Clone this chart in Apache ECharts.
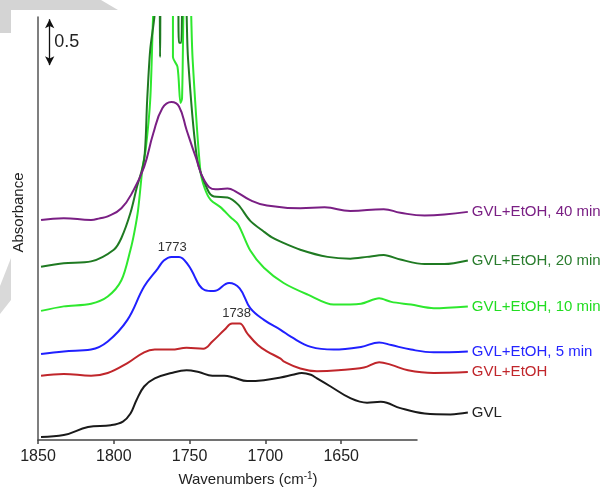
<!DOCTYPE html>
<html>
<head>
<meta charset="utf-8">
<script src="https://cdn.jsdelivr.net/npm/echarts@6/dist/echarts.min.js"></script>
<style>
html,body{margin:0;padding:0;background:#fff;}
#chart{width:611px;height:494px;}
</style>
</head>
<body>
<div id="chart"></div>
<script>
// ---- data: [wavenumber (cm-1), absorbance incl. vertical offset] ----
const seriesNames = ['GVL', 'GVL+EtOH', 'GVL+EtOH, 5 min', 'GVL+EtOH, 10 min', 'GVL+EtOH, 20 min', 'GVL+EtOH, 40 min'];
const xTicks = [1850, 1800, 1750, 1700, 1650];

const gvl = [[1848,0.09],[1833,0.11],[1817,0.20],[1802,0.22],[1794,0.26],[1789,0.35],[1785,0.50],[1780,0.65],[1773,0.74],[1762,0.80],[1752,0.83],[1744,0.81],[1735,0.77],[1727,0.77],[1721,0.75],[1712,0.71],[1701,0.72],[1690,0.75],[1682,0.78],[1676,0.80],[1670,0.78],[1666,0.74],[1657,0.65],[1644,0.52],[1633,0.47],[1624,0.48],[1620,0.47],[1611,0.41],[1595,0.35],[1578,0.34],[1566.5,0.36]];
const gvlEtoh = [[1848,0.77],[1833,0.79],[1815,0.77],[1804,0.80],[1791,0.91],[1780,1.03],[1773,1.06],[1762,1.06],[1752,1.08],[1741,1.07],[1735,1.15],[1727,1.28],[1722,1.35],[1717,1.35],[1712,1.24],[1705,1.11],[1699,1.04],[1690,0.96],[1688,0.93],[1677,0.85],[1666,0.82],[1652,0.83],[1635,0.86],[1625,0.92],[1617,0.89],[1606,0.83],[1589,0.80],[1566.5,0.81]];
const etoh5 = [[1848,1.01],[1833,1.04],[1815,1.06],[1804,1.15],[1791,1.39],[1780,1.76],[1771,1.96],[1767,2.05],[1762,2.09],[1757,2.09],[1751,2.00],[1740,1.72],[1734,1.71],[1724,1.80],[1717,1.74],[1710,1.52],[1701,1.39],[1690,1.28],[1683,1.20],[1670,1.09],[1655,1.06],[1637,1.09],[1625,1.14],[1617,1.11],[1604,1.06],[1589,1.03],[1566.5,1.04]];
const etoh10 = [[1848,1.49],[1833,1.54],[1815,1.57],[1804,1.65],[1795,1.83],[1789,2.17],[1786.5,2.36],[1784,2.61],[1781,3.09],[1779,3.28],[1776,3.83],[1774,4.8],[1772,5.4],[1763,5.4],[1761,4.9],[1761,4.31],[1758,4.20],[1756,3.80],[1755,3.85],[1754,4.9],[1753,5.4],[1750,5.4],[1749,4.8],[1748,4.28],[1743,3.06],[1740,2.85],[1736,2.72],[1729.5,2.64],[1723,2.53],[1718,2.45],[1710,2.16],[1701,1.97],[1688,1.80],[1672,1.67],[1655,1.56],[1637,1.57],[1625,1.63],[1617,1.59],[1604,1.56],[1589,1.52],[1566.5,1.54]];
const etoh20 = [[1848,1.98],[1833,2.02],[1815,2.04],[1800,2.17],[1795,2.30],[1789,2.58],[1785,2.85],[1780,3.17],[1778,3.83],[1776,4.39],[1773,4.8],[1772,5.4],[1770,5.4],[1769.5,4.31],[1768.5,5.4],[1758,5.4],[1757,4.47],[1755.5,4.47],[1754.5,5.4],[1753,5.4],[1752,4.8],[1751,4.28],[1745,3.17],[1738,2.83],[1734,2.76],[1725,2.75],[1718,2.67],[1710,2.49],[1701,2.37],[1696,2.31],[1690,2.26],[1677,2.17],[1659,2.09],[1644,2.07],[1633,2.09],[1622,2.11],[1611,2.06],[1595,2.01],[1582,2.01],[1566.5,2.05]];
const etoh40 = [[1848,2.50],[1833,2.52],[1815,2.50],[1809,2.52],[1804,2.54],[1795,2.63],[1787,2.83],[1780,3.09],[1774,3.46],[1768,3.74],[1762,3.81],[1757,3.76],[1752,3.50],[1746,3.20],[1740,2.93],[1733,2.84],[1725,2.85],[1719,2.81],[1710,2.72],[1699,2.66],[1677,2.63],[1661,2.64],[1644,2.60],[1622,2.62],[1611,2.58],[1595,2.55],[1582,2.56],[1566.5,2.59]];

// annotations (data coordinates)
const peakLabels = [{text: '1773', at: [1761.5, 2.19]}, {text: '1738', at: [1719, 1.46]}];
const scaleBar = {x: 1842.3, from: 4.22, to: 4.73, text: '0.5', labelAt: [1831, 4.48]};

const colors = ['#1a1a1a', '#c0262b', '#2020ff', '#2ee82e', '#1f7a22', '#7a1f84'];
const labelColors = ['#222222', '#c0262b', '#2525ff', '#22dd22', '#2a7d2e', '#7a1f84'];
const smoothing = [0.4, 0.4, 0.4, 0.3, 0.3, 0.45];
const dataSets = [gvl, gvlEtoh, etoh5, etoh10, etoh20, etoh40];

const yMax = 4.755;
const font = 'Liberation Sans, Arial, sans-serif';
const chart = echarts.init(document.getElementById('chart'), null, {renderer: 'canvas'});

const series = dataSets.map((d, i) => ({
  type: 'line',
  name: seriesNames[i],
  xAxisIndex: 1, yAxisIndex: 1,
  data: d,
  showSymbol: false,
  smooth: smoothing[i],
  clip: true,
  lineStyle: {color: colors[i], width: 2},
  itemStyle: {color: colors[i]},
  endLabel: {
    show: true, formatter: '{a}', color: labelColors[i],
    fontSize: 15, fontFamily: font,
    align: 'left', distance: 0, offset: [4, 0]
  },
  emphasis: {disabled: true},
  animation: false
}));

const annLabel = (size, color) => ({show: true, position: 'inside', color: color, fontSize: size, fontFamily: font, formatter: p => p.name});
series[2].markPoint = {symbol: 'circle', symbolSize: 0, silent: true, animation: false,
  label: annLabel(13, '#333'), data: [{name: peakLabels[0].text, coord: peakLabels[0].at}]};
series[1].markPoint = {symbol: 'circle', symbolSize: 0, silent: true, animation: false,
  label: annLabel(13, '#333'), data: [{name: peakLabels[1].text, coord: peakLabels[1].at}]};
series[0].markLine = {silent: true, animation: false, symbol: ['arrow', 'arrow'], symbolSize: [7, 9],
  lineStyle: {color: '#111', width: 1.3, type: 'solid'}, label: {show: false},
  data: [[{coord: [scaleBar.x, scaleBar.from]}, {coord: [scaleBar.x, scaleBar.to]}]]};
series[0].markPoint = {symbol: 'circle', symbolSize: 0, silent: true, animation: false,
  label: annLabel(18, '#222'), data: [{name: scaleBar.text, coord: scaleBar.labelAt}]};

chart.setOption({
  backgroundColor: '#ffffff',
  animation: false,
  graphic: [
    {type: 'polygon', shape: {points: [[0,0],[101,0],[118,10],[11,10],[11,33],[0,33]]}, style: {fill: '#d4d4d4'}, z: -10},
    {type: 'polygon', shape: {points: [[11,258],[11,300],[0,314],[0,286]]}, style: {fill: '#d9d9d9'}, z: -10}
  ],
  grid: [
    {left: 38, top: 17, width: 379, height: 428},
    {left: 38, top: 17, width: 430, height: 428}
  ],
  xAxis: [
    {type: 'value', gridIndex: 0, min: 1600, max: 1850, interval: 50, inverse: true,
     axisLine: {show: true, lineStyle: {color: '#444', width: 1.5}},
     axisTick: {show: true, length: 4, customValues: xTicks, lineStyle: {color: '#444', width: 1.5}},
     axisLabel: {show: true, customValues: xTicks, fontSize: 16, color: '#222', margin: 9, fontFamily: font,
       formatter: v => String(v)},
     splitLine: {show: false},
     name: 'Wavenumbers (cm{sup|-1})', nameLocation: 'middle', nameGap: 31,
     nameTextStyle: {fontSize: 15, color: '#222', fontFamily: font, lineHeight: 18, padding: [0, 0, 0, 41],
       rich: {sup: {fontSize: 10, lineHeight: 10, verticalAlign: 'top', color: '#222', fontFamily: font}}}},
    {type: 'value', gridIndex: 1, min: 1566.4, max: 1850, inverse: true, show: false}
  ],
  yAxis: [
    {type: 'value', gridIndex: 0, min: 0, max: yMax,
     axisLine: {show: true, lineStyle: {color: '#555', width: 1.5}},
     axisTick: {show: false}, axisLabel: {show: false}, splitLine: {show: false},
     name: 'Absorbance', nameLocation: 'middle', nameGap: 12,
     nameTextStyle: {fontSize: 15, color: '#222', fontFamily: font, padding: [0, 0, 0, 32]}},
    {type: 'value', gridIndex: 1, min: 0, max: yMax, show: false}
  ],
  series: series
});
</script>
</body>
</html>
